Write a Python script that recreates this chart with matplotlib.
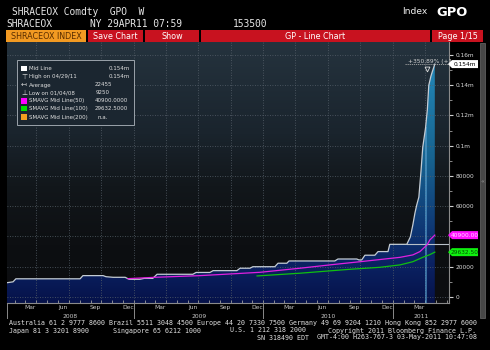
import numpy as np
import matplotlib
matplotlib.use('Agg')
import matplotlib.pyplot as plt
import matplotlib.dates as mdates
import matplotlib.transforms as mtransforms
from matplotlib.colors import LinearSegmentedColormap
from matplotlib.patches import Rectangle, Polygon

# --- values (SHRACEOX, weekly) ---
mid_dates = ['2008-01-04', '2008-01-26', '2008-02-03', '2008-08-02', '2008-08-10',
             '2008-10-06', '2008-10-14', '2008-11-03', '2008-12-07', '2008-12-18',
             '2009-01-18', '2009-01-30', '2009-02-23', '2009-03-07', '2009-06-16',
             '2009-06-25', '2009-08-03', '2009-08-12', '2009-10-18', '2009-10-27',
             '2009-11-24', '2009-12-02', '2010-02-02', '2010-02-11', '2010-03-08',
             '2010-03-14', '2010-07-21', '2010-07-30', '2010-09-21', '2010-09-27',
             '2010-10-05', '2010-10-14', '2010-11-11', '2010-11-20', '2010-12-18',
             '2010-12-23', '2011-02-09', '2011-02-19', '2011-02-26', '2011-03-04',
             '2011-03-09', '2011-03-15', '2011-03-21', '2011-03-26', '2011-04-03',
             '2011-04-08', '2011-04-12', '2011-04-18', '2011-04-22', '2011-04-29']
mid_values = [9250, 10000, 12000, 12000, 14100,
              14100, 13400, 13000, 13000, 11700,
              11700, 12300, 12300, 15000, 15000,
              16200, 16200, 17400, 17400, 19000,
              19000, 20000, 20000, 22300, 22300,
              23800, 23800, 25100, 25100, 24500,
              24500, 27600, 27600, 30000, 30000,
              34800, 34800, 39700, 47600, 55500,
              60800, 66000, 83000, 99000, 112000,
              124000, 140000, 146000, 149000, 154000]

sma50_dates = ['2008-12-15', '2009-03-01', '2009-07-06', '2009-12-22', '2010-04-14',
               '2010-07-07', '2010-09-30', '2011-01-21', '2011-02-26', '2011-03-18',
               '2011-04-07', '2011-04-15', '2011-04-29']
sma50_values = [12100, 13000, 14100, 16300, 19000,
                21200, 23300, 26200, 27800, 30000,
                34400, 37700, 40900]

sma100_dates = ['2009-12-14', '2010-04-14', '2010-09-02', '2010-11-25', '2011-01-21',
                '2011-02-26', '2011-03-26', '2011-04-15', '2011-04-29']
sma100_values = [13900, 15700, 18300, 19600, 21200,
                 23300, 26200, 28000, 29632.5]

y_ticks = [0, 20000, 40000, 60000, 80000, 100000, 120000, 140000, 160000]
# the 40000 label sits under the SMAVG(50) tag in the screenshot
y_tick_labels = ['0', '20000', '', '60000', '80000', '0.1m', '0.12m', '0.14m', '0.16m']
month_names = {3: 'Mar', 6: 'Jun', 9: 'Sep', 12: 'Dec'}
years = [2008, 2009, 2010, 2011]

# --- layout helpers (pixel coords of the 490x350 screenshot) ---
W, H = 490, 350
def fx(x):
    return x / W
def fy(y):
    return 1 - y / H

YLO, YHI = -4000, 168600
AX_L, AX_R, AX_T, AX_B = 7, 449, 42, 303
def val_px(v):
    return AX_B - (v - YLO) / (YHI - YLO) * (AX_B - AX_T)

fig = plt.figure(figsize=(4.9, 3.5), dpi=100, facecolor='black')
pos = [fx(AX_L), fy(AX_B), fx(AX_R) - fx(AX_L), fy(AX_T) - fy(AX_B)]

# background gradient of the chart panel
bg = fig.add_axes(pos, zorder=0)
bg_cmap = LinearSegmentedColormap.from_list('bg', [(0, '#0c0d10'), (0.22, '#0d0f12'),
                                                   (0.45, '#12171b'), (0.65, '#1a242d'),
                                                   (1, '#25333e')])
bg.imshow(np.linspace(0, 1, 256).reshape(-1, 1), cmap=bg_cmap, aspect='auto',
          origin='lower', extent=[0, 1, 0, 1])
bg.axis('off')

ax = fig.add_axes(pos, zorder=1)
ax.set_facecolor('none')

md = mdates.date2num(np.array(mid_dates, dtype='datetime64[D]'))
m50 = mdates.date2num(np.array(sma50_dates, dtype='datetime64[D]'))
m100 = mdates.date2num(np.array(sma100_dates, dtype='datetime64[D]'))
x0 = mdates.date2num(np.datetime64('2008-01-09'))
x1 = mdates.date2num(np.datetime64('2011-06-08'))

# gradient fill under the mid line
poly = ax.fill_between(md, mid_values, YLO, facecolor='none', edgecolor='none')
fill_cmap = LinearSegmentedColormap.from_list('fill', [(0, '#061249'), (0.15, '#0b2263'),
                                                       (0.3, '#0f3a76'), (0.55, '#17628f'),
                                                       (1, '#2590c0')])
img = ax.imshow(np.linspace(0, 1, 256).reshape(-1, 1), cmap=fill_cmap, aspect='auto',
                origin='lower', extent=[x0, x1, YLO, YHI], zorder=1)
img.set_clip_path(poly.get_paths()[0], transform=ax.transData)

# grid
for v in y_ticks:
    ax.axhline(v, color='#56606a', lw=0.6, ls=(0, (1, 2)), zorder=2)
for yr in range(2008, 2012):
    for mo in (1, 4, 7, 10):
        d = mdates.date2num(np.datetime64(f'{yr}-{mo:02d}-01'))
        if x0 < d < x1:
            ax.axvline(d, color='#56606a', lw=0.6, ls=(0, (1, 2)), zorder=2)

# lines
spike_start = mdates.date2num(np.datetime64('2011-02-09'))
ax.plot([spike_start, x1], [34800, 34800], color='#b8c0c8', lw=0.8, zorder=3)
stripe = mdates.date2num(np.datetime64('2011-04-03'))
ax.plot([stripe, stripe], [YLO, 112000], color='#5aa6d6', lw=1.2, alpha=0.7, zorder=3)
ax.plot(md, mid_values, color='#c4ccd4', lw=0.9, zorder=4)
ax.plot(m50, sma50_values, color='#e020e0', lw=0.9, zorder=4)
ax.plot(m100, sma100_values, color='#10c010', lw=0.9, zorder=4)

# high marker
hi_x = mdates.date2num(np.datetime64('2011-04-07'))
ax.plot([hi_x], [151000], marker='v', ms=3.5, mfc='none', mec='#e0e0e0', mew=0.6,
        zorder=5, clip_on=False)

ax.set_xlim(x0, x1)
ax.set_ylim(YLO, YHI)

# y axis on the right
ax.yaxis.tick_right()
ax.set_yticks(y_ticks)
ax.set_yticklabels(y_tick_labels)
ax.set_yticks(np.arange(10000, 170000, 20000), minor=True)
ax.tick_params(axis='y', which='major', length=3, width=0.8, color='#d0d0d0', pad=1.5,
               labelsize=4.2, labelcolor='#d8d8d8')
ax.tick_params(axis='y', which='minor', length=2, width=0.6, color='#a0a0a0')

# x axis: month labels at mid-month, month tick marks, year boxes
lab_pos, lab_txt = [], []
for yr in years:
    for mo, name in month_names.items():
        d = mdates.date2num(np.datetime64(f'{yr}-{mo:02d}-15'))
        if x0 < d < x1:
            lab_pos.append(d)
            lab_txt.append(name)
ax.set_xticks(lab_pos)
ax.set_xticklabels(lab_txt)
ax.tick_params(axis='x', which='major', length=0, pad=1.5, labelsize=4.3,
               labelcolor='#c8c8c8')
month_starts = [mdates.date2num(np.datetime64(f'{yr}-{mo:02d}-01'))
                for yr in years for mo in range(1, 13)]
ax.set_xticks([d for d in month_starts if x0 < d < x1], minor=True)
ax.tick_params(axis='x', which='minor', length=2, width=0.6, color='#a0a0a0',
               direction='in')

for s in ('top', 'left'):
    ax.spines[s].set_visible(False)
ax.spines['bottom'].set_color('#8a8a8a')
ax.spines['bottom'].set_linewidth(0.8)
ax.spines['right'].set_color('#8a8a8a')
ax.spines['right'].set_linewidth(0.8)

tr = mtransforms.blended_transform_factory(ax.transData, ax.transAxes)
bounds = [x0] + [mdates.date2num(np.datetime64(f'{yr}-01-01')) for yr in years[1:]] + [x1]
for i, yr in enumerate(years):
    if i > 0:
        ax.plot([bounds[i], bounds[i]], [0, -0.058], color='#8a8a8a', lw=0.7,
                transform=tr, clip_on=False)
    ax.text((bounds[i] + bounds[i + 1]) / 2, -0.05, str(yr), transform=tr,
            ha='center', va='center', fontsize=4.3, color='#c8c8c8')
ax.plot([x0, x0], [0, -0.058], color='#8a8a8a', lw=0.7, transform=tr, clip_on=False)

# --- header ---
mono = 'DejaVu Sans Mono'
fig.text(fx(12), fy(12), 'SHRACEOX Comdty  GPO  W', fontsize=6.9, family=mono,
         color='#e6e6e6', va='center')
fig.text(fx(6), fy(24), 'SHRACEOX', fontsize=6.9, family=mono, color='#e6e6e6', va='center')
fig.text(fx(90), fy(24), 'NY 29APR11 07:59', fontsize=6.9, family=mono, color='#e6e6e6',
         va='center')
fig.text(fx(233), fy(24), '153500', fontsize=6.9, family=mono, color='#e6e6e6', va='center')
fig.text(fx(402), fy(12), 'Index', fontsize=6.6, color='#f0f0f0', va='center')
fig.text(fx(436), fy(12.5), 'GPO', fontsize=9.4, weight='bold', color='#ffffff', va='center')

def bar(x_a, x_b, face, label, tcol):
    fig.add_artist(Rectangle((fx(x_a), fy(42)), fx(x_b) - fx(x_a), fy(30) - fy(42),
                             transform=fig.transFigure, facecolor=face, edgecolor='none',
                             zorder=5))
    fig.text(fx((x_a + x_b) / 2), fy(36.5), label, ha='center', va='center', fontsize=5.8,
             color=tcol, zorder=6)

bar(6, 86, '#f29a22', 'SHRACEOX INDEX', '#5a2e00')
bar(88, 143, '#c8121f', 'Save Chart', '#ffffff')
bar(145, 199, '#c8121f', 'Show', '#ffffff')
bar(201, 430, '#c8121f', 'GP - Line Chart', '#ffffff')
bar(432, 483, '#c8121f', 'Page 1/15', '#ffffff')

# scroll bar
fig.add_artist(Rectangle((fx(480), fy(318)), fx(5), fy(43) - fy(318), transform=fig.transFigure,
                         facecolor='#474747', edgecolor='#6a6a6a', lw=0.5, zorder=5))
fig.text(fx(482.5), fy(182), '«', fontsize=4.5, color='#9a9a9a', ha='center', va='center',
         zorder=6)

# --- legend box ---
fig.add_artist(Rectangle((fx(17), fy(125)), fx(117), fy(60) - fy(125),
                         transform=fig.transFigure, facecolor='#1b2630', edgecolor='#9aa2aa',
                         lw=0.7, zorder=5))
rows = [68.3, 76.7, 85.0, 93.0, 100.8, 108.6, 117.2]
names = ['Mid Line', 'High on 04/29/11', 'Average', 'Low on 01/04/08',
         'SMAVG Mid Line(50)', 'SMAVG Mid Line(100)', 'SMAVG Mid Line(200)']
values = ['0.154m', '0.154m', '22455', '9250', '40900.0000', '29632.5000', 'n.a.']
val_x = [130, 130, 112, 110, 95, 95, 97]
val_ha = ['right', 'right', 'right', 'right', 'left', 'left', 'left']
icons = ['#ffffff', None, None, None, '#ff00ff', '#00e000', '#f0a020']
symbols = [None, '⊤', '↤', '⊥', None, None, None]
for r, n, v, vx, ha, ic, sym in zip(rows, names, values, val_x, val_ha, icons, symbols):
    fig.text(fx(29), fy(r), n, fontsize=4.0, color='#e0e0e0', va='center', zorder=6)
    fig.text(fx(vx), fy(r), v, fontsize=4.0, color='#e0e0e0', va='center', ha=ha, zorder=6)
    if ic:
        fig.add_artist(Rectangle((fx(21), fy(r + 2.8)), fx(5.5), fy(r - 2.8) - fy(r + 2.8),
                                 transform=fig.transFigure, facecolor=ic, edgecolor='none',
                                 zorder=6))
    if sym:
        fig.text(fx(24), fy(r), sym, fontsize=5, color='#e0e0e0', ha='center', va='center',
                 zorder=6)

# --- value tags on the right axis ---
def tag(v, text, face, tcol):
    y = val_px(v)
    pts = [(448, y), (452, y - 4), (478, y - 4), (478, y + 4), (452, y + 4)]
    fig.add_artist(Polygon([(fx(a), fy(b)) for a, b in pts], closed=True,
                           transform=fig.transFigure, facecolor=face, edgecolor='none',
                           zorder=7))
    fig.text(fx(465), fy(y), text, ha='center', va='center', fontsize=4.2, color=tcol,
             zorder=8)

tag(154000, '0.154m', '#ffffff', '#000000')
tag(40900, '40900.00', '#ff10ff', '#ffd8ff')
tag(29632.5, '29632.50', '#10f010', '#005000')

# change annotation above the peak
fig.text(fx(408), fy(61.5), '+350.89% (+1', fontsize=4.2, color='#d0d0d0', va='center',
         zorder=6)
fig.add_artist(plt.Line2D([fx(405), fx(448)], [fy(64), fy(64)], transform=fig.transFigure,
                          color='#a8a8a8', lw=0.6, ls=(0, (1.5, 1)), zorder=6))

# --- footer ---
foot = dict(fontsize=4.8, family=mono, color='#e0e0e0', va='center')
fig.text(fx(9), fy(323.5), 'Australia 61 2 9777 8600 Brazil 5511 3048 4500 Europe 44 20 '
         '7330 7500 Germany 49 69 9204 1210 Hong Kong 852 2977 6000', **foot)
fig.text(fx(9), fy(330.5), 'Japan 81 3 3201 8900', **foot)
fig.text(fx(113), fy(330.5), 'Singapore 65 6212 1000', **foot)
fig.text(fx(230), fy(330.5), 'U.S. 1 212 318 2000', **foot)
fig.text(fx(328), fy(330.5), 'Copyright 2011 Bloomberg Finance L.P.', **foot)
fig.text(fx(257), fy(337.5), 'SN 318490 EDT', **foot)
fig.text(fx(317), fy(337.5), 'GMT-4:00 H263-767-3 03-May-2011 10:47:08', **foot)

fig.savefig('out.png', dpi=100, facecolor='black')
